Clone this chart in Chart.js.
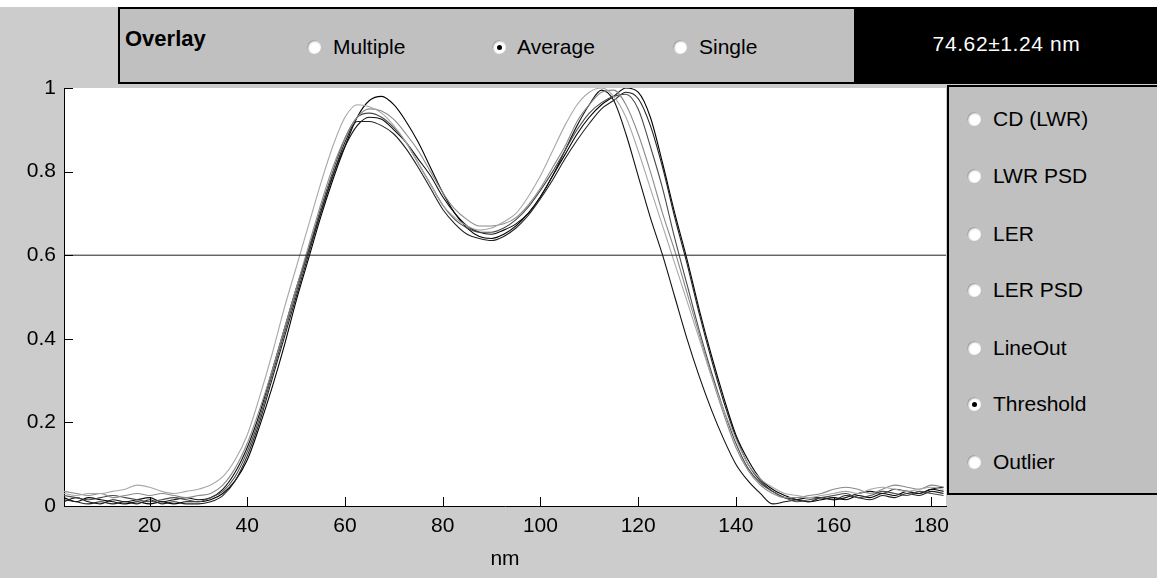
<!DOCTYPE html>
<html>
<head>
<meta charset="utf-8">
<script src="https://cdn.jsdelivr.net/npm/chart.js@4.4.1/dist/chart.umd.min.js"></script>
<style>
  html, body { margin: 0; padding: 0; }
  body { width: 1157px; height: 578px; overflow: hidden; background: #cccccc; position: relative;
         font-family: "Liberation Sans", Arial, sans-serif; }
  #topstrip { position: absolute; left: 0; top: 0; width: 1157px; height: 7px; background: #ffffff; }
  #chartwrap { position: absolute; left: 0; top: 0; width: 1157px; height: 578px; }
  .panel { position: absolute; background: #c0c0c0; border: 2px solid #000; box-sizing: border-box; }
  #overlay { left: 118px; top: 7px; width: 738px; height: 77px; }
  #result { position: absolute; left: 856px; top: 7px; width: 301px; height: 77px; background: #000;
            color: #fff; font-size: 21px; letter-spacing: 0.6px; text-align: center; line-height: 74px; }
  #side { left: 947px; top: 85px; width: 212px; height: 410px; border-width: 2px; }
  .lbl { position: absolute; font-size: 21px; color: #000; white-space: nowrap; line-height: 24px; }
  .title { font-weight: bold; font-size: 22px; }
  .radio { position: absolute; width: 14px; height: 14px; border-radius: 50%; background: #fff;
           box-shadow: inset 1px 1px 2px #8a8a8a; }
  .radio.on::after { content: ""; position: absolute; left: 5px; top: 5px; width: 5px; height: 5px;
           border-radius: 50%; background: #000; }
</style>
</head>
<body>
<div id="topstrip"></div>
<div id="chartwrap"><canvas id="c" width="1157" height="578"></canvas></div>

<div class="panel" id="overlay">
  <div class="lbl title" style="left:5px; top:18px;">Overlay</div>
  <div class="radio" style="left:187px; top:31px;"></div>
  <div class="lbl" style="left:213px; top:26px;">Multiple</div>
  <div class="radio on" style="left:372px; top:31px;"></div>
  <div class="lbl" style="left:397px; top:26px;">Average</div>
  <div class="radio" style="left:553px; top:31px;"></div>
  <div class="lbl" style="left:579px; top:26px;">Single</div>
</div>
<div id="result">74.62±1.24 nm</div>

<div class="panel" id="side">
  <div class="radio" style="left:18px; top:25px;"></div>
  <div class="lbl" style="left:44px; top:20px;">CD (LWR)</div>
  <div class="radio" style="left:18px; top:82px;"></div>
  <div class="lbl" style="left:44px; top:77px;">LWR PSD</div>
  <div class="radio" style="left:18px; top:140px;"></div>
  <div class="lbl" style="left:44px; top:135px;">LER</div>
  <div class="radio" style="left:18px; top:196px;"></div>
  <div class="lbl" style="left:44px; top:191px;">LER PSD</div>
  <div class="radio" style="left:18px; top:254px;"></div>
  <div class="lbl" style="left:44px; top:249px;">LineOut</div>
  <div class="radio on" style="left:18px; top:310px;"></div>
  <div class="lbl" style="left:44px; top:305px;">Threshold</div>
  <div class="radio" style="left:18px; top:368px;"></div>
  <div class="lbl" style="left:44px; top:363px;">Outlier</div>
</div>

<script>
// ---- data ----
const xNm = [2.5,5,7.5,10,12.5,15,17.5,20,22.5,25,27.5,30,32.5,35,37.5,40,42.5,45,47.5,50,52.5,55,57.5,60,62.5,65,67.5,70,72.5,75,77.5,80,82.5,85,87.5,90,92.5,95,97.5,100,102.5,105,107.5,110,112.5,115,117.5,120,122.5,125,127.5,130,132.5,135,137.5,140,142.5,145,147.5,150,152.5,155,157.5,160,162.5,165,167.5,170,172.5,175,177.5,180,182.5];

const curveA = [0.02,0.01,0.02,0.015,0.01,0.005,0.01,0.005,0.01,0.005,0.01,0.01,0.015,
  0.03,0.06,0.11,0.19,0.28,0.38,0.49,0.59,0.69,0.78,0.86,
  0.93,0.97,0.98,0.96,0.92,0.87,0.81,0.75,0.70,0.665,0.645,0.64,
  0.65,0.67,0.70,0.74,0.79,0.84,0.89,0.93,0.96,0.98,1.0,0.99,
  0.93,0.82,0.70,0.59,0.47,0.36,0.26,0.17,0.11,0.065,0.04,0.025,
  0.015,0.01,0.015,0.02,0.015,0.025,0.02,0.03,0.025,0.035,0.03,0.04,0.035];
const curveB = [0.03,0.025,0.03,0.03,0.035,0.04,0.05,0.045,0.035,0.03,0.035,0.04,0.05,
  0.07,0.11,0.17,0.26,0.36,0.47,0.57,0.67,0.77,0.86,0.93,
  0.96,0.955,0.94,0.91,0.87,0.82,0.77,0.72,0.69,0.67,0.66,0.665,
  0.68,0.70,0.74,0.79,0.85,0.91,0.96,0.99,1.0,0.98,0.93,0.85,
  0.76,0.67,0.58,0.49,0.40,0.31,0.23,0.16,0.10,0.065,0.045,0.03,
  0.025,0.02,0.025,0.03,0.035,0.03,0.04,0.045,0.04,0.035,0.04,0.045,0.04];
const curveC = [0.01,0.02,0.01,0.005,0.015,0.01,0.015,0.02,0.01,0.015,0.02,0.015,0.02,
  0.04,0.08,0.14,0.22,0.32,0.42,0.52,0.61,0.70,0.79,0.86,
  0.91,0.93,0.925,0.90,0.87,0.83,0.79,0.74,0.70,0.67,0.655,0.65,
  0.66,0.675,0.70,0.74,0.79,0.85,0.91,0.96,0.995,0.97,0.89,0.79,
  0.69,0.60,0.50,0.40,0.31,0.23,0.16,0.10,0.06,0.03,0.005,0.01,
  0.015,0.02,0.02,0.015,0.02,0.03,0.035,0.03,0.04,0.035,0.03,0.04,0.045];
const curveD = [0.025,0.02,0.015,0.02,0.025,0.02,0.015,0.01,0.015,0.02,0.015,0.01,0.02,
  0.035,0.07,0.13,0.21,0.31,0.41,0.51,0.61,0.71,0.80,0.88,
  0.93,0.94,0.93,0.905,0.87,0.82,0.77,0.72,0.685,0.665,0.655,0.655,
  0.665,0.685,0.715,0.755,0.80,0.85,0.90,0.94,0.965,0.98,0.985,0.95,
  0.86,0.76,0.64,0.53,0.42,0.32,0.23,0.15,0.09,0.055,0.035,0.02,
  0.01,0.015,0.02,0.025,0.03,0.02,0.025,0.035,0.03,0.025,0.035,0.03,0.025];
const curveE = [0.035,0.03,0.025,0.03,0.02,0.025,0.03,0.025,0.03,0.025,0.02,0.025,0.03,
  0.05,0.09,0.15,0.23,0.32,0.42,0.52,0.62,0.72,0.81,0.88,
  0.93,0.95,0.945,0.925,0.89,0.85,0.80,0.75,0.71,0.685,0.67,0.67,
  0.675,0.69,0.72,0.76,0.81,0.86,0.92,0.96,0.99,0.995,0.96,0.89,
  0.80,0.70,0.61,0.51,0.41,0.31,0.22,0.14,0.085,0.05,0.03,0.02,
  0.02,0.025,0.03,0.04,0.045,0.04,0.03,0.04,0.05,0.045,0.04,0.05,0.045];
const curveF = [0.015,0.01,0.005,0.01,0.005,0.01,0.005,0.015,0.005,0.01,0.005,0.005,0.01,
  0.025,0.06,0.12,0.20,0.30,0.40,0.50,0.60,0.70,0.79,0.87,
  0.92,0.92,0.91,0.89,0.855,0.81,0.76,0.71,0.675,0.65,0.64,0.635,
  0.645,0.665,0.695,0.735,0.78,0.83,0.875,0.915,0.95,0.97,0.99,0.975,
  0.91,0.81,0.69,0.58,0.46,0.35,0.25,0.165,0.10,0.06,0.035,0.02,
  0.015,0.01,0.02,0.015,0.025,0.02,0.015,0.025,0.02,0.03,0.025,0.035,0.03];

const threshold = 0.6;
const xMin = 2.5, xMax = 183;
const xTicks = [20,40,60,80,100,120,140,160,180];
const yTicks = [0,0.2,0.4,0.6,0.8,1];
const yTickLabels = ["0","0.2","0.4","0.6","0.8","1"];
const xTitle = "nm";

// ---- build ----
const series = [
  {vals: curveB, color: "#a8a8a8"},
  {vals: curveE, color: "#8a8a8a"},
  {vals: curveD, color: "#4a4a4a"},
  {vals: curveF, color: "#222222"},
  {vals: curveC, color: "#111111"},
  {vals: curveA, color: "#000000"}
];

const datasets = series.map(s => ({
  data: xNm.map((x, i) => ({x: x, y: s.vals[i]})),
  borderColor: s.color,
  borderWidth: 1.1,
  pointRadius: 0,
  cubicInterpolationMode: "monotone",
  fill: false
}));
datasets.unshift({
  data: [{x: xMin, y: threshold}, {x: xMax, y: threshold}],
  borderColor: "#222222",
  borderWidth: 1,
  pointRadius: 0,
  fill: false
});

const inwardTicks = {
  id: "inwardTicks",
  afterDraw(chart) {
    const ctx = chart.ctx, a = chart.chartArea;
    const xs = chart.scales.x, ys = chart.scales.y;
    ctx.save();
    ctx.strokeStyle = "#000";
    ctx.lineWidth = 1;
    ctx.beginPath();
    xs.ticks.forEach(t => {
      const px = Math.round(xs.getPixelForValue(t.value)) + 0.5;
      ctx.moveTo(px, a.bottom);
      ctx.lineTo(px, a.bottom - 9);
    });
    ys.ticks.forEach(t => {
      const py = Math.round(ys.getPixelForValue(t.value)) + 0.5;
      ctx.moveTo(a.left, py);
      ctx.lineTo(a.left + 9, py);
    });
    ctx.stroke();
    ctx.restore();
  }
};

const bgPlugin = {
  id: "plotBg",
  beforeDraw(chart) {
    const ctx = chart.ctx, a = chart.chartArea;
    ctx.save();
    ctx.fillStyle = "#ffffff";
    ctx.fillRect(a.left, a.top, a.right - a.left, a.bottom - a.top);
    ctx.restore();
  }
};

const font = {family: "'Liberation Sans', Arial, sans-serif", size: 21};

new Chart(document.getElementById("c"), {
  type: "scatter",
  data: {datasets: datasets},
  plugins: [bgPlugin, inwardTicks],
  options: {
    responsive: false,
    animation: false,
    showLine: true,
    layout: {padding: {left: 0, top: 88, right: 211, bottom: 0}},
    plugins: {legend: {display: false}, tooltip: {enabled: false}},
    scales: {
      x: {
        type: "linear",
        min: xMin, max: xMax,
        afterBuildTicks: s => { s.ticks = xTicks.map(v => ({value: v})); },
        afterFit: s => { s.height = 72; },
        grid: {display: false, drawTicks: false},
        border: {display: true, color: "#000", width: 1},
        ticks: {color: "#000", font: font, padding: 8, maxRotation: 0, autoSkip: false,
                callback: v => String(v)},
        title: {display: true, text: xTitle, color: "#000", font: font, padding: {top: 6, bottom: 6}}
      },
      y: {
        type: "linear",
        min: 0, max: 1,
        afterBuildTicks: s => { s.ticks = yTicks.map(v => ({value: v})); },
        afterFit: s => { s.width = 64; },
        grid: {display: false, drawTicks: false},
        border: {display: true, color: "#000", width: 1},
        ticks: {color: "#000", font: font, padding: 8, autoSkip: false,
                callback: (v) => yTickLabels[yTicks.indexOf(v)] ?? ""}
      }
    }
  }
});
</script>
</body>
</html>
